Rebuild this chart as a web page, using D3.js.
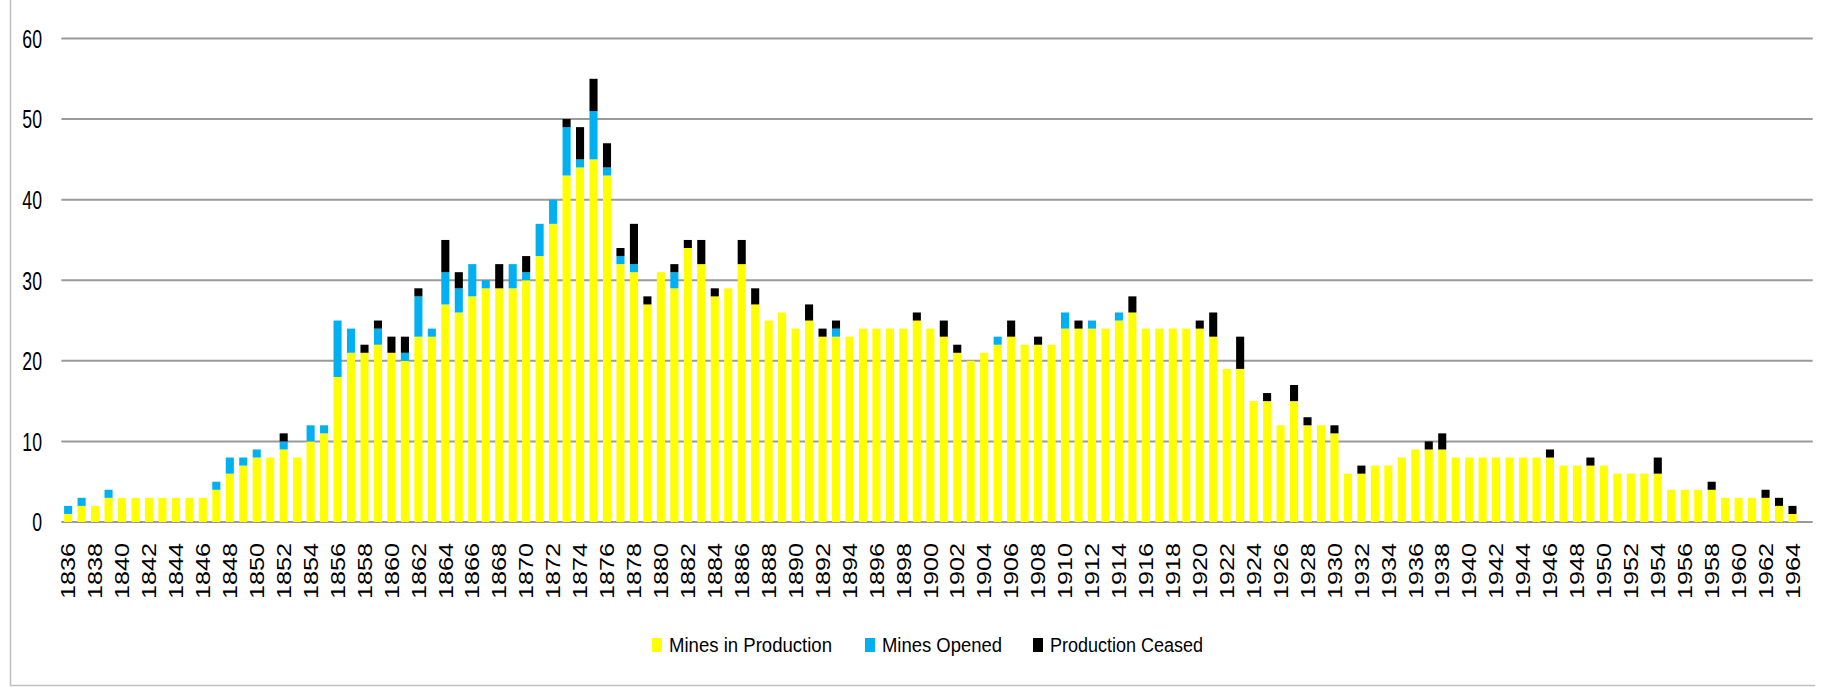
<!DOCTYPE html>
<html lang="en">
<meta charset="utf-8">
<title>Mines in production</title>
<style>
  body { margin: 0; background: #fff; }
  .ylab { font-family: "Liberation Sans", Arial, sans-serif; font-size: 26px; fill: #000; }
  .xlab { font-family: "Liberation Sans", Arial, sans-serif; font-size: 20px; fill: #000; }
  .leg { font-family: "Liberation Sans", Arial, sans-serif; font-size: 20px; fill: #000; }
</style>
<body>
<script src="https://d3js.org/d3.v7.min.js"></script>
<script>
  // categories: one per year, the last slot (1965) is empty in the original
  var years = d3.range(1836, 1966);

  // Mines in Production
  var production = [
    1, 2, 2, 3, 3, 3, 3, 3, 3, 3,
    3, 4, 6, 7, 8, 8, 9, 8, 10, 11,
    18, 21, 21, 22, 21, 20, 23, 23, 27, 26,
    28, 29, 29, 29, 30, 33, 37, 43, 44, 45,
    43, 32, 31, 27, 31, 29, 34, 32, 28, 29,
    32, 27, 25, 26, 24, 25, 23, 23, 23, 24,
    24, 24, 24, 25, 24, 23, 21, 20, 21, 22,
    23, 22, 22, 22, 24, 24, 24, 24, 25, 26,
    24, 24, 24, 24, 24, 23, 19, 19, 15, 15,
    12, 15, 12, 12, 11, 6, 6, 7, 7, 8,
    9, 9, 9, 8, 8, 8, 8, 8, 8, 8,
    8, 7, 7, 7, 7, 6, 6, 6, 6, 4,
    4, 4, 4, 3, 3, 3, 3, 2, 1, 0
  ];

  // Mines Opened
  var opened = [
    1, 1, 0, 1, 0, 0, 0, 0, 0, 0,
    0, 1, 2, 1, 1, 0, 1, 0, 2, 1,
    7, 3, 0, 2, 0, 1, 5, 1, 4, 3,
    4, 1, 0, 3, 1, 4, 3, 6, 1, 6,
    1, 1, 1, 0, 0, 2, 0, 0, 0, 0,
    0, 0, 0, 0, 0, 0, 0, 1, 0, 0,
    0, 0, 0, 0, 0, 0, 0, 0, 0, 1,
    0, 0, 0, 0, 2, 0, 1, 0, 1, 0,
    0, 0, 0, 0, 0, 0, 0, 0, 0, 0,
    0, 0, 0, 0, 0, 0, 0, 0, 0, 0,
    0, 0, 0, 0, 0, 0, 0, 0, 0, 0,
    0, 0, 0, 0, 0, 0, 0, 0, 0, 0,
    0, 0, 0, 0, 0, 0, 0, 0, 0, 0
  ];

  // Production Ceased
  var ceased = [
    0, 0, 0, 0, 0, 0, 0, 0, 0, 0,
    0, 0, 0, 0, 0, 0, 1, 0, 0, 0,
    0, 0, 1, 1, 2, 2, 1, 0, 4, 2,
    0, 0, 3, 0, 2, 0, 0, 1, 4, 4,
    3, 1, 5, 1, 0, 1, 1, 3, 1, 0,
    3, 2, 0, 0, 0, 2, 1, 1, 0, 0,
    0, 0, 0, 1, 0, 2, 1, 0, 0, 0,
    2, 0, 1, 0, 0, 1, 0, 0, 0, 2,
    0, 0, 0, 0, 1, 3, 0, 4, 0, 1,
    0, 2, 1, 0, 1, 0, 1, 0, 0, 0,
    0, 1, 2, 0, 0, 0, 0, 0, 0, 0,
    1, 0, 0, 1, 0, 0, 0, 0, 2, 0,
    0, 0, 1, 0, 0, 0, 1, 1, 1, 0
  ];

  var seriesNames = ["Mines in Production", "Mines Opened", "Production Ceased"];
  var seriesKeys = ["production", "opened", "ceased"];
  var colors = ["#ffff00", "#00b0f0", "#000000"];
  var yTicks = [0, 10, 20, 30, 40, 50, 60];

  var W = 1827, H = 687;
  var plotLeft = 61.4, plotRight = 1812.7, plotTop = 38.5, plotBottom = 522;

  var table = years.map(function(y, i) {
    return { year: y, production: production[i], opened: opened[i], ceased: ceased[i] };
  });

  var svg = d3.select("body").append("svg")
    .attr("width", W)
    .attr("height", H);

  // chart frame, only the left and bottom edges are in the picture
  svg.append("line").attr("x1", 10.5).attr("x2", 10.5).attr("y1", 0).attr("y2", 685.5)
    .attr("stroke", "#bfbfbf").attr("stroke-width", 1.5);
  svg.append("line").attr("x1", 10).attr("x2", 1815).attr("y1", 685.5).attr("y2", 685.5)
    .attr("stroke", "#bfbfbf").attr("stroke-width", 1.5);

  var x = d3.scaleBand()
    .domain(years)
    .range([plotLeft, plotRight])
    .paddingInner(0.4)
    .paddingOuter(0.2);

  var y = d3.scaleLinear().domain([0, 60]).range([plotBottom, plotTop]);

  // gridlines
  svg.append("g")
    .selectAll("line")
    .data(yTicks)
    .enter().append("line")
    .attr("x1", plotLeft).attr("x2", plotRight)
    .attr("y1", function(d) { return y(d); })
    .attr("y2", function(d) { return y(d); })
    .attr("stroke", "#9a9a9a")
    .attr("stroke-width", 2);

  // y labels, squeezed sideways like the narrow font of the original
  svg.append("g")
    .selectAll("text")
    .data(yTicks)
    .enter().append("text")
    .attr("class", "ylab")
    .attr("text-anchor", "end")
    .attr("dy", "0.36em")
    .attr("transform", function(d) { return "translate(42," + y(d) + ") scale(0.68,1)"; })
    .text(function(d) { return d; });

  // stacked bars
  var stack = d3.stack().keys(seriesKeys)(table);

  svg.append("g")
    .selectAll("g")
    .data(stack)
    .enter().append("g")
    .attr("fill", function(d, i) { return colors[i]; })
    .selectAll("rect")
    .data(function(d) { return d.filter(function(p) { return p[1] > p[0]; }); })
    .enter().append("rect")
    .attr("x", function(d) { return x(d.data.year); })
    .attr("width", x.bandwidth())
    .attr("y", function(d) { return y(d[1]); })
    .attr("height", function(d) { return y(d[0]) - y(d[1]); });

  // x labels, every second year, drawn rotated
  svg.append("g")
    .selectAll("text")
    .data(years.filter(function(d) { return (d - 1836) % 2 === 0 && d <= 1964; }))
    .enter().append("text")
    .attr("class", "xlab")
    .attr("text-anchor", "end")
    .attr("dy", "0.36em")
    .attr("transform", function(d) {
      return "translate(" + (x(d) + x.bandwidth() / 2) + ",543) rotate(-90) scale(1.26,1)";
    })
    .text(function(d) { return d; });

  // legend
  var legX = [652, 865, 1033];
  var legW = [163, 120, 153];
  var leg = svg.append("g")
    .selectAll("g")
    .data(seriesNames)
    .enter().append("g")
    .attr("transform", function(d, i) { return "translate(" + legX[i] + ",645)"; });

  leg.append("rect")
    .attr("x", 0).attr("y", -7)
    .attr("width", 10).attr("height", 14)
    .attr("fill", function(d, i) { return colors[i]; });

  leg.append("text")
    .attr("class", "leg")
    .attr("x", 17)
    .attr("dy", "0.36em")
    .attr("textLength", function(d, i) { return legW[i]; })
    .attr("lengthAdjust", "spacingAndGlyphs")
    .text(function(d) { return d; });
</script>
</body>
</html>
